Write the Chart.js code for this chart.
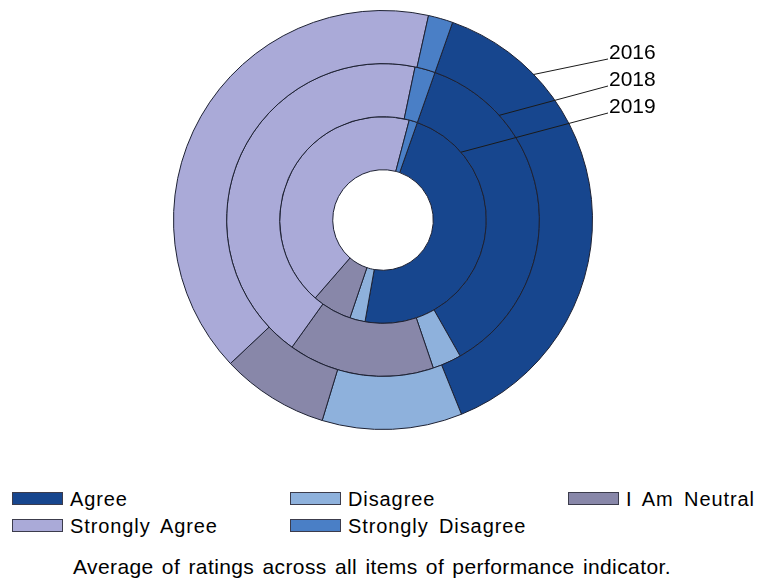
<!DOCTYPE html>
<html>
<head>
<meta charset="utf-8">
<script src="https://cdn.jsdelivr.net/npm/chart.js@4.4.1/dist/chart.umd.min.js"></script>
<style>
  html, body { margin: 0; padding: 0; background: #fff; overflow: hidden; }
  body { width: 760px; height: 580px; position: relative; font-family: "Liberation Sans", Arial, sans-serif; color: #000; }
  #wrap { position: absolute; left: 0; top: 0; width: 760px; height: 440px; }
  .item { position: absolute; height: 20px; }
  .box { position: absolute; top: 3px; left: 0; width: 49px; height: 11px; border: 1px solid #3c3c4c; }
  .lbl { position: absolute; left: 58px; top: 0; font-size: 20px; line-height: 20px; white-space: nowrap; letter-spacing: 0.9px; word-spacing: 4px; }
  #caption { position: absolute; left: 73px; top: 556px; font-size: 21px; line-height: 21px; white-space: nowrap; letter-spacing: 0.4px; word-spacing: 2px; }
</style>
</head>
<body>
<div id="wrap"><canvas id="ring"></canvas></div>
<div id="legend"></div>
<div id="caption">Average of ratings across all items of performance indicator.</div>
<script>
// ---- data ----
const categories = ['Agree', 'Disagree', 'I Am Neutral', 'Strongly Agree', 'Strongly Disagree'];
const years = ['2016', '2018', '2019'];
const values2016 = [38.5, 10.8, 8.3, 40.5, 1.9];
const values2018 = [36.4, 3.0, 15.1, 43.4, 2.1];
const values2019 = [47.4, 2.4, 6.2, 42.7, 1.3];
const colors = ['#17468e', '#8eb1dc', '#8887a9', '#aaaad8', '#4a7fc6'];

// where each year's leader line leaves its ring (degrees clockwise from top)
const leaderAngles = [46, 48, 49];

// ---- year labels with leader lines ----
const yearLabels = {
  id: 'yearLabels',
  afterDatasetsDraw(chart) {
    const c = chart.ctx;
    c.save();
    c.strokeStyle = '#1a1a1a';
    c.lineWidth = 1;
    c.fillStyle = '#000';
    c.font = '21px "Liberation Sans", Arial, sans-serif';
    c.textBaseline = 'alphabetic';
    chart.data.datasets.forEach((ds, i) => {
      const arc = chart.getDatasetMeta(i).data[0];
      const p = arc.getProps(['x', 'y', 'outerRadius'], true);
      const a = leaderAngles[i] * Math.PI / 180;
      const sx = p.x + p.outerRadius * Math.sin(a);
      const sy = p.y - p.outerRadius * Math.cos(a);
      const ex = p.x + 225;
      const ey = p.y - 161 + i * 27;
      c.beginPath();
      c.moveTo(sx, sy);
      c.lineTo(ex, ey);
      c.stroke();
      c.fillText(ds.label, ex + 1, ey);
    });
    c.restore();
  }
};

const series = [values2016, values2018, values2019];

new Chart(document.getElementById('ring'), {
  type: 'doughnut',
  data: {
    labels: categories,
    datasets: years.map((y, i) => ({
      label: y,
      data: series[i],
      backgroundColor: colors,
      borderColor: '#1d2133',
      borderWidth: 1,
      hoverOffset: 0
    }))
  },
  options: {
    responsive: true,
    maintainAspectRatio: false,
    animation: false,
    events: [],
    rotation: 19.4,
    cutout: '24%',
    layout: { padding: { top: 10, bottom: 10, left: 10, right: 4 } },
    plugins: {
      legend: { display: false },
      tooltip: { enabled: false }
    }
  },
  plugins: [yearLabels]
});

// ---- legend, three columns ----
const legend = document.getElementById('legend');
const colLeft = [12, 290, 568];
const rowTop = [489, 516];
categories.forEach((name, i) => {
  const item = document.createElement('div');
  item.className = 'item';
  item.style.left = colLeft[i % 3] + 'px';
  item.style.top = rowTop[Math.floor(i / 3)] + 'px';
  item.innerHTML = '<div class="box" style="background:' + colors[i] + '"></div><div class="lbl">' + name + '</div>';
  legend.appendChild(item);
});
</script>
</body>
</html>
